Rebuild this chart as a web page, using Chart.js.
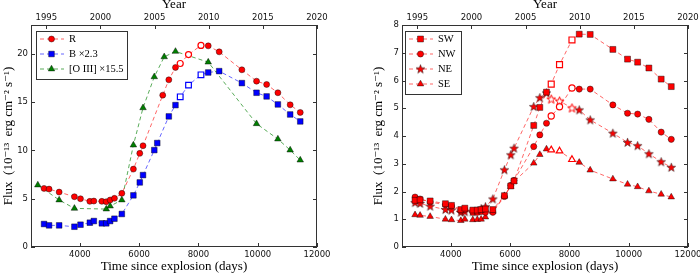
<!DOCTYPE html>
<html>
<head>
<meta charset="utf-8">
<script src="https://cdn.jsdelivr.net/npm/chart.js@4.4.1/dist/chart.umd.min.js"></script>
<style>
  html, body { margin: 0; padding: 0; background: #fff; }
  #wrap { position: relative; width: 700px; height: 274px; }
  .panel { position: absolute; top: 0; width: 350px; height: 274px; }
</style>
</head>
<body>
<div id="wrap">
  <div class="panel" style="left:0"><canvas id="left_chart" width="350" height="274"></canvas></div>
  <div class="panel" style="left:350px"><canvas id="right_chart" width="350" height="274"></canvas></div>
</div>
<script>
// ---- tick labels ----
var dayTicks = [4000, 6000, 8000, 10000, 12000];
var yearTicks = [1995, 2000, 2005, 2010, 2015, 2020];
var leftYTicks = [0, 5, 10, 15, 20];
var rightYTicks = [0, 1, 2, 3, 4, 5, 6, 7, 8];

// ---- left panel: total flux ----
var rDays = [2790, 2960, 3300, 3815, 4020, 4335, 4470, 4740, 4890, 5020, 5165, 5415, 5805, 6020, 6130,
             6795, 7000, 7225, 7385, 7665, 8085, 8330, 8700, 9465, 9960, 10300, 10680, 11095, 11435];
var rFlux = [6.07, 6.0, 5.69, 5.21, 5.0, 4.73, 4.76, 4.73, 4.69, 4.87, 5.04, 5.56, 8.07, 9.70, 10.49,
             15.73, 17.32, 18.6, 19.01, 19.94, 20.88, 20.84, 20.22, 18.36, 17.18, 16.84, 15.98, 14.73, 13.94];
var rOpen = [18, 19, 20];

var bDays = [2790, 2960, 3300, 3815, 4020, 4335, 4470, 4740, 4890, 5020, 5165, 5415, 5805, 6020, 6130,
             6510, 6610, 7000, 7225, 7385, 7665, 8085, 8330, 8700, 9465, 9960, 10300, 10680, 11095, 11435];
var bFlux = [2.38, 2.24, 2.24, 2.10, 2.31, 2.52, 2.69, 2.45, 2.45, 2.69, 2.93, 3.42, 5.35, 6.69, 7.45,
             10.04, 10.77, 13.53, 14.70, 15.56, 16.77, 17.84, 18.08, 18.22, 16.98, 15.98, 15.60, 14.77, 13.73, 13.01];
var bOpen = [19, 20, 21];

var oDays = [2580, 3300, 3815, 4890, 5020, 5415, 5805, 6130, 6510, 6845, 7225, 8330, 9960, 10680, 11095, 11435];
var oFlux = [6.42, 4.87, 4.0, 3.93, 4.24, 4.87, 10.56, 14.42, 17.63, 19.70, 20.26, 19.15, 12.77, 11.18, 10.04, 9.0];

// ---- right panel: quadrants ----
var qDays = [2790, 2960, 3300, 3815, 4020, 4335, 4470, 4740, 4890, 5020, 5165, 5415, 5805, 6020, 6130,
             6795, 7000, 7225, 7385, 7665, 8085, 8330, 8700, 9465, 9960, 10300, 10680, 11095, 11435];
var swFlux = [1.68, 1.70, 1.66, 1.56, 1.50, 1.35, 1.40, 1.33, 1.33, 1.35, 1.37, 1.35, 1.85, 2.20, 2.38,
              4.38, 5.03, 5.58, 5.87, 6.57, 7.46, 7.67, 7.66, 7.12, 6.77, 6.66, 6.45, 6.05, 5.78];
var nwFlux = [1.80, 1.73, 1.62, 1.52, 1.47, 1.30, 1.35, 1.25, 1.25, 1.28, 1.25, 1.25, 1.82, 2.22, 2.40,
              3.62, 4.04, 4.46, 4.72, 5.05, 5.73, 5.69, 5.69, 5.12, 4.82, 4.79, 4.60, 4.14, 3.88];
var neFlux = [1.60, 1.57, 1.47, 1.35, 1.33, 1.25, 1.27, 1.27, 1.30, 1.38, 1.45, 1.73, 2.78, 3.32, 3.56,
              5.06, 5.38, 5.55, 5.33, 5.26, 5.01, 4.94, 4.58, 4.10, 3.77, 3.65, 3.36, 3.07, 2.87];
var seFlux = [1.16, 1.14, 1.10, 1.00, 0.98, 0.95, 1.00, 0.98, 0.99, 1.00, 1.08, 1.28, 1.85, 2.18, 2.36,
              3.02, 3.33, 3.53, 3.50, 3.46, 3.15, 3.05, 2.77, 2.45, 2.26, 2.17, 2.02, 1.90, 1.80];
var qOpen = [18, 19, 20];

var dayMin = 2350, dayMax = 12000;

// SN 1987A exploded 1987 Feb 23
function yearToDay(yr) { return (yr - 1987.15) * 365.25; }

var tickFont = { family: "'DejaVu Sans', sans-serif", size: 8.5 };
var titleFont = { family: "'Liberation Serif', 'DejaVu Serif', serif", size: 13 };
var legendFont = "10.5px 'Liberation Serif', 'DejaVu Serif', serif";
var edge = 'rgba(0,0,0,0.6)';

function makeStar(fill, stroke, lw) {
    var c = document.createElement('canvas');
    c.width = 11; c.height = 11;
    var g = c.getContext('2d');
    g.beginPath();
    for (var i = 0; i < 10; i++) {
        var r = i % 2 ? 1.9 : 4.6;
        var a = -Math.PI / 2 + i * Math.PI / 5;
        var px = 5.5 + r * Math.cos(a), py = 5.8 + r * Math.sin(a);
        if (i) g.lineTo(px, py); else g.moveTo(px, py);
    }
    g.closePath();
    g.fillStyle = fill; g.fill();
    g.lineWidth = lw; g.strokeStyle = stroke; g.stroke();
    return c;
}
var starFilled = makeStar('#ff0000', 'rgba(0,0,0,0.65)', 0.7);
var starOpen = makeStar('#ffffff', '#ff0000', 1);

function series(label, days, flux, openIdx, color, lineColor, style, radius) {
    var isOpen = days.map(function (d, i) { return openIdx.indexOf(i) >= 0; });
    return {
        label: label,
        data: days.map(function (d, i) { return { x: d, y: flux[i] }; }),
        borderColor: lineColor,
        borderWidth: 1,
        borderDash: [4, 3],
        tension: 0,
        fill: false,
        pointStyle: style === 'star' ? isOpen.map(function (o) { return o ? starOpen : starFilled; }) : style,
        pointRadius: radius,
        pointHoverRadius: radius,
        pointBackgroundColor: isOpen.map(function (o) { return o ? '#ffffff' : color; }),
        pointBorderColor: isOpen.map(function (o) { return o ? color : edge; }),
        pointBorderWidth: isOpen.map(function (o) { return o ? 1.2 : 0.7; })
    };
}

function drawMarker(ctx, style, r, x, y) {
    if (style && style.getContext) {
        ctx.drawImage(style, x - style.width / 2, y - style.height / 2);
        return;
    }
    ctx.beginPath();
    if (style === 'circle') {
        ctx.arc(x, y, r, 0, Math.PI * 2);
    } else if (style === 'rect') {
        var s = r * Math.SQRT1_2;
        ctx.rect(x - s, y - s, 2 * s, 2 * s);
    } else if (style === 'triangle') {
        for (var i = 0; i < 3; i++) {
            var a = i * 2 * Math.PI / 3;
            var px = x + Math.sin(a) * r, py = y - Math.cos(a) * r;
            if (i) ctx.lineTo(px, py); else ctx.moveTo(px, py);
        }
        ctx.closePath();
    }
    ctx.fill();
    ctx.stroke();
}

// legend box drawn inside the plot, matplotlib style
var boxLegend = {
    id: 'boxLegend',
    afterDatasetsDraw: function (chart, args, opts) {
        var ctx = chart.ctx;
        ctx.save();
        ctx.fillStyle = 'rgba(255,255,255,0.92)';
        ctx.fillRect(opts.left, opts.top, opts.width, opts.height);
        ctx.strokeStyle = '#333';
        ctx.lineWidth = 1;
        ctx.strokeRect(opts.left + 0.5, opts.top + 0.5, opts.width, opts.height);
        chart.data.datasets.forEach(function (ds, i) {
            var cy = opts.top + opts.first + i * opts.row;
            ctx.setLineDash([4, 3]);
            ctx.strokeStyle = ds.borderColor;
            ctx.lineWidth = 1;
            ctx.beginPath();
            ctx.moveTo(opts.left + 4, cy);
            ctx.lineTo(opts.left + 28, cy);
            ctx.stroke();
            ctx.setLineDash([]);
            var st = Array.isArray(ds.pointStyle) ? ds.pointStyle[0] : ds.pointStyle;
            ctx.fillStyle = ds.pointBackgroundColor[0];
            ctx.strokeStyle = ds.pointBorderColor[0];
            ctx.lineWidth = ds.pointBorderWidth[0];
            drawMarker(ctx, st, ds.pointRadius, opts.left + 15.5, cy);
            ctx.fillStyle = '#000';
            ctx.font = legendFont;
            ctx.textBaseline = 'middle';
            ctx.fillText(ds.label, opts.left + 33, cy + 0.5);
        });
        ctx.restore();
    }
};

// frame with inward ticks on all four sides
var frameTicks = {
    id: 'frameTicks',
    afterDraw: function (chart) {
        var ctx = chart.ctx, a = chart.chartArea;
        var x = chart.scales.x, x2 = chart.scales.x2, y = chart.scales.y;
        ctx.save();
        ctx.strokeStyle = '#333';
        ctx.lineWidth = 1;
        ctx.beginPath();
        x.ticks.forEach(function (t) {
            var px = Math.round(x.getPixelForValue(t.value)) + 0.5;
            ctx.moveTo(px, a.bottom); ctx.lineTo(px, a.bottom - 4);
        });
        x2.ticks.forEach(function (t) {
            var px = Math.round(x2.getPixelForValue(t.value)) + 0.5;
            ctx.moveTo(px, a.top); ctx.lineTo(px, a.top + 4);
        });
        y.ticks.forEach(function (t) {
            var py = Math.round(y.getPixelForValue(t.value)) + 0.5;
            ctx.moveTo(a.left, py); ctx.lineTo(a.left + 4, py);
            ctx.moveTo(a.right, py); ctx.lineTo(a.right - 4, py);
        });
        ctx.stroke();
        ctx.strokeRect(Math.round(a.left) + 0.5, Math.round(a.top) + 0.5,
                       Math.round(a.right - a.left) - 1, Math.round(a.bottom - a.top) - 1);
        ctx.restore();
    }
};

function makeOptions(cfg) {
    return {
        responsive: false,
        animation: false,
        layout: { padding: { left: cfg.padLeft, right: cfg.padRight, top: 0, bottom: 0 } },
        plugins: {
            legend: { display: false },
            tooltip: { enabled: false },
            boxLegend: cfg.legend
        },
        scales: {
            x: {
                type: 'linear', position: 'bottom', min: dayMin, max: dayMax,
                afterBuildTicks: function (s) { s.ticks = dayTicks.map(function (v) { return { value: v }; }); },
                afterFit: function (s) { s.height = 27; s.paddingLeft = 0; s.paddingRight = 0; },
                grid: { display: false, drawTicks: false },
                border: { display: false },
                ticks: { font: tickFont, color: '#111', padding: 3, maxRotation: 0, autoSkip: false,
                         callback: function (v) { return String(v); } },
                title: { display: true, text: 'Time since explosion (days)', font: titleFont, color: '#000',
                         padding: { top: 0, bottom: 0 } }
            },
            x2: {
                type: 'linear', position: 'top', min: dayMin, max: dayMax,
                afterBuildTicks: function (s) { s.ticks = yearTicks.map(function (yr) { return { value: yearToDay(yr) }; }); },
                afterFit: function (s) { s.height = 25; s.paddingLeft = 0; s.paddingRight = 0; },
                grid: { display: false, drawTicks: false },
                border: { display: false },
                ticks: { font: tickFont, color: '#111', padding: 2, maxRotation: 0, autoSkip: false,
                         callback: function (v, i) { return String(yearTicks[i]); } },
                title: { display: true, text: 'Year', font: titleFont, color: '#000',
                         padding: { top: -3, bottom: 0 } }
            },
            y: {
                type: 'linear', position: 'left', min: 0, max: cfg.yMax,
                afterBuildTicks: function (s) { s.ticks = cfg.yTicks.map(function (v) { return { value: v }; }); },
                afterFit: function (s) { s.width = cfg.yWidth; s.paddingTop = 0; s.paddingBottom = 0; },
                grid: { display: false, drawTicks: false },
                border: { display: false },
                ticks: { font: tickFont, color: '#111', padding: 3, autoSkip: false,
                         callback: function (v) { return String(v); } },
                title: { display: true, text: 'Flux  (10\u207B\u00B9\u00B3  erg cm\u207B\u00B2 s\u207B\u00B9)',
                         font: titleFont, color: '#000', padding: { top: 1, bottom: 0 } }
            }
        }
    };
}

var leftChart = new Chart(document.getElementById('left_chart').getContext('2d'), {
    type: 'line',
    data: {
        datasets: [
            series('R', rDays, rFlux, rOpen, '#ff0000', 'rgba(255,0,0,0.6)', 'circle', 3),
            series('B \u00D72.3', bDays, bFlux, bOpen, '#0000ff', 'rgba(0,0,255,0.6)', 'rect', 4),
            series('[O III] \u00D715.5', oDays, oFlux, [], '#007f00', 'rgba(0,127,0,0.65)', 'triangle', 3.8)
        ]
    },
    options: makeOptions({ padLeft: 0, padRight: 33, yMax: 23, yTicks: leftYTicks, yWidth: 31,
                           legend: { left: 36, top: 31, width: 91, height: 48, first: 8, row: 15 } }),
    plugins: [boxLegend, frameTicks]
});

var rightChart = new Chart(document.getElementById('right_chart').getContext('2d'), {
    type: 'line',
    data: {
        datasets: [
            series('SW', qDays, swFlux, qOpen, '#ff0000', 'rgba(255,0,0,0.6)', 'rect', 4.2),
            series('NW', qDays, nwFlux, qOpen, '#ff0000', 'rgba(255,0,0,0.6)', 'circle', 3.1),
            series('NE', qDays, neFlux, qOpen, '#ff0000', 'rgba(255,0,0,0.6)', 'star', 4),
            series('SE', qDays, seFlux, qOpen, '#ff0000', 'rgba(255,0,0,0.6)', 'triangle', 3.8)
        ]
    },
    options: makeOptions({ padLeft: 20, padRight: 12, yMax: 8, yTicks: rightYTicks, yWidth: 32,
                           legend: { left: 55, top: 31, width: 56, height: 63, first: 8, row: 15 } }),
    plugins: [boxLegend, frameTicks]
});
</script>
</body>
</html>
